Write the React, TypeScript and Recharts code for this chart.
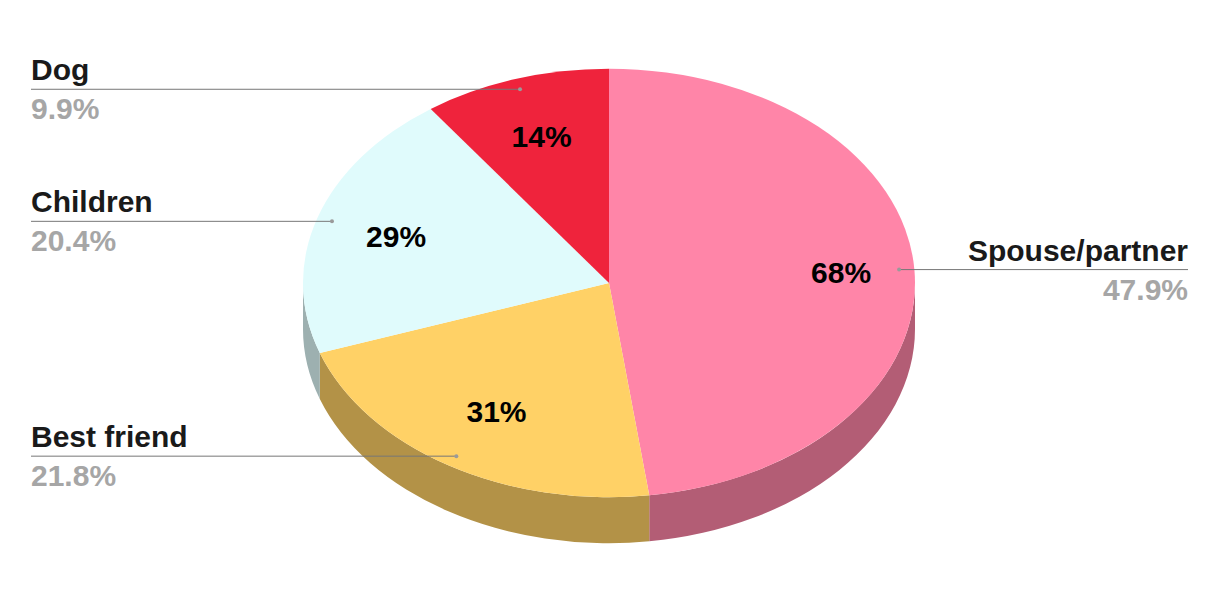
import { PieChart, Pie, Cell } from 'recharts';

const categories = ['Spouse/partner', 'Best friend', 'Children', 'Dog'];
const shares = [47.9, 21.8, 20.4, 9.9];
const shareLabels = ['47.9%', '21.8%', '20.4%', '9.9%'];
const innerValues = ['68%', '31%', '29%', '14%'];

const topColors = ['#ff85a8', '#ffd166', '#e0fbfc', '#ef233c'];
const sideColors = ['#b35d75', '#b39247', '#9db0b0', '#a71828'];

const tableData = categories.map((name, i) => ({ name, value: shares[i] }));

const WIDTH = 1219;
const HEIGHT = 612;
const CX = 609;
const CY = 283;
const RADIUS = 306;
const SQUASH = 0.7; // pie is tilted, y is flattened
const DEPTH = 46;
const RAD = Math.PI / 180;
const FONT = '"Liberation Sans", Arial, sans-serif';
const FONT_SIZE = 30;

// where the big black number sits, as a fraction of the radius
const innerLabelRatio = [0.76, 0.7, 0.73, 0.72];
const LEADER_RATIO = 0.95;
const LEFT_X = 31;
const RIGHT_X = 1188;

function ellipsePoint(cx: number, cy: number, r: number, angle: number, ratio = 1) {
  return {
    x: cx + r * ratio * Math.cos(angle * RAD),
    y: cy - r * ratio * SQUASH * Math.sin(angle * RAD),
  };
}

function TopSlice(props: any) {
  const { cx, cy, outerRadius, startAngle, endAngle, fill } = props;
  const a = ellipsePoint(cx, cy, outerRadius, startAngle);
  const b = ellipsePoint(cx, cy, outerRadius, endAngle);
  const large = Math.abs(endAngle - startAngle) > 180 ? 1 : 0;
  const d = `M${cx},${cy} L${a.x},${a.y} A${outerRadius},${outerRadius * SQUASH} 0 ${large} 1 ${b.x},${b.y} Z`;
  return <path d={d} fill={fill} />;
}

// side wall, only the front half of the rim is visible
function SideSlice(props: any) {
  const { cx, cy, outerRadius, startAngle, endAngle, fill } = props;
  const from = Math.min(startAngle, 0);
  const to = Math.max(endAngle, -180);
  if (from <= to) return <g />;
  const a = ellipsePoint(cx, cy, outerRadius, from);
  const b = ellipsePoint(cx, cy, outerRadius, to);
  const ry = outerRadius * SQUASH;
  const d = `M${a.x},${a.y} A${outerRadius},${ry} 0 0 1 ${b.x},${b.y} L${b.x},${b.y + DEPTH} A${outerRadius},${ry} 0 0 0 ${a.x},${a.y + DEPTH} Z`;
  return <path d={d} fill={fill} />;
}

function SliceLabel(props: any) {
  const { cx, cy, outerRadius, midAngle, index } = props;
  const inner = ellipsePoint(cx, cy, outerRadius, midAngle, innerLabelRatio[index]);
  const dot = ellipsePoint(cx, cy, outerRadius, midAngle, LEADER_RATIO);
  const onRight = Math.cos(midAngle * RAD) > 0;
  const edge = onRight ? RIGHT_X : LEFT_X;
  const anchor = onRight ? 'end' : 'start';
  return (
    <g>
      <text x={inner.x} y={inner.y + 11} textAnchor="middle" fontFamily={FONT} fontSize={FONT_SIZE} fontWeight={700} fill="#000000">
        {innerValues[index]}
      </text>
      <line x1={edge} y1={dot.y} x2={dot.x} y2={dot.y} stroke="#777777" strokeWidth={1} />
      <circle cx={dot.x} cy={dot.y} r={2} fill="#9a9a9a" />
      <text x={edge} y={dot.y - 9} textAnchor={anchor} fontFamily={FONT} fontSize={FONT_SIZE} fontWeight={700} fill="#1a1a1a">
        {categories[index]}
      </text>
      <text x={edge} y={dot.y + 30} textAnchor={anchor} fontFamily={FONT} fontSize={FONT_SIZE} fontWeight={700} fill="#a6a6a6">
        {shareLabels[index]}
      </text>
    </g>
  );
}

export default function App() {
  return (
    <div style={{ position: 'absolute', left: 0, top: 0, width: WIDTH, height: HEIGHT, background: '#ffffff' }}>
      <PieChart width={WIDTH} height={HEIGHT} margin={{ top: 0, right: 0, bottom: 0, left: 0 }}>
        <Pie
          data={tableData}
          dataKey="value"
          cx={CX}
          cy={CY}
          innerRadius={0}
          outerRadius={RADIUS}
          startAngle={90}
          endAngle={-270}
          stroke="none"
          shape={SideSlice}
          isAnimationActive={false}
        >
          {tableData.map((d, i) => (
            <Cell key={d.name} fill={sideColors[i]} />
          ))}
        </Pie>
        <Pie
          data={tableData}
          dataKey="value"
          cx={CX}
          cy={CY}
          innerRadius={0}
          outerRadius={RADIUS}
          startAngle={90}
          endAngle={-270}
          stroke="none"
          shape={TopSlice}
          label={SliceLabel}
          labelLine={false}
          isAnimationActive={false}
        >
          {tableData.map((d, i) => (
            <Cell key={d.name} fill={topColors[i]} />
          ))}
        </Pie>
      </PieChart>
    </div>
  );
}
